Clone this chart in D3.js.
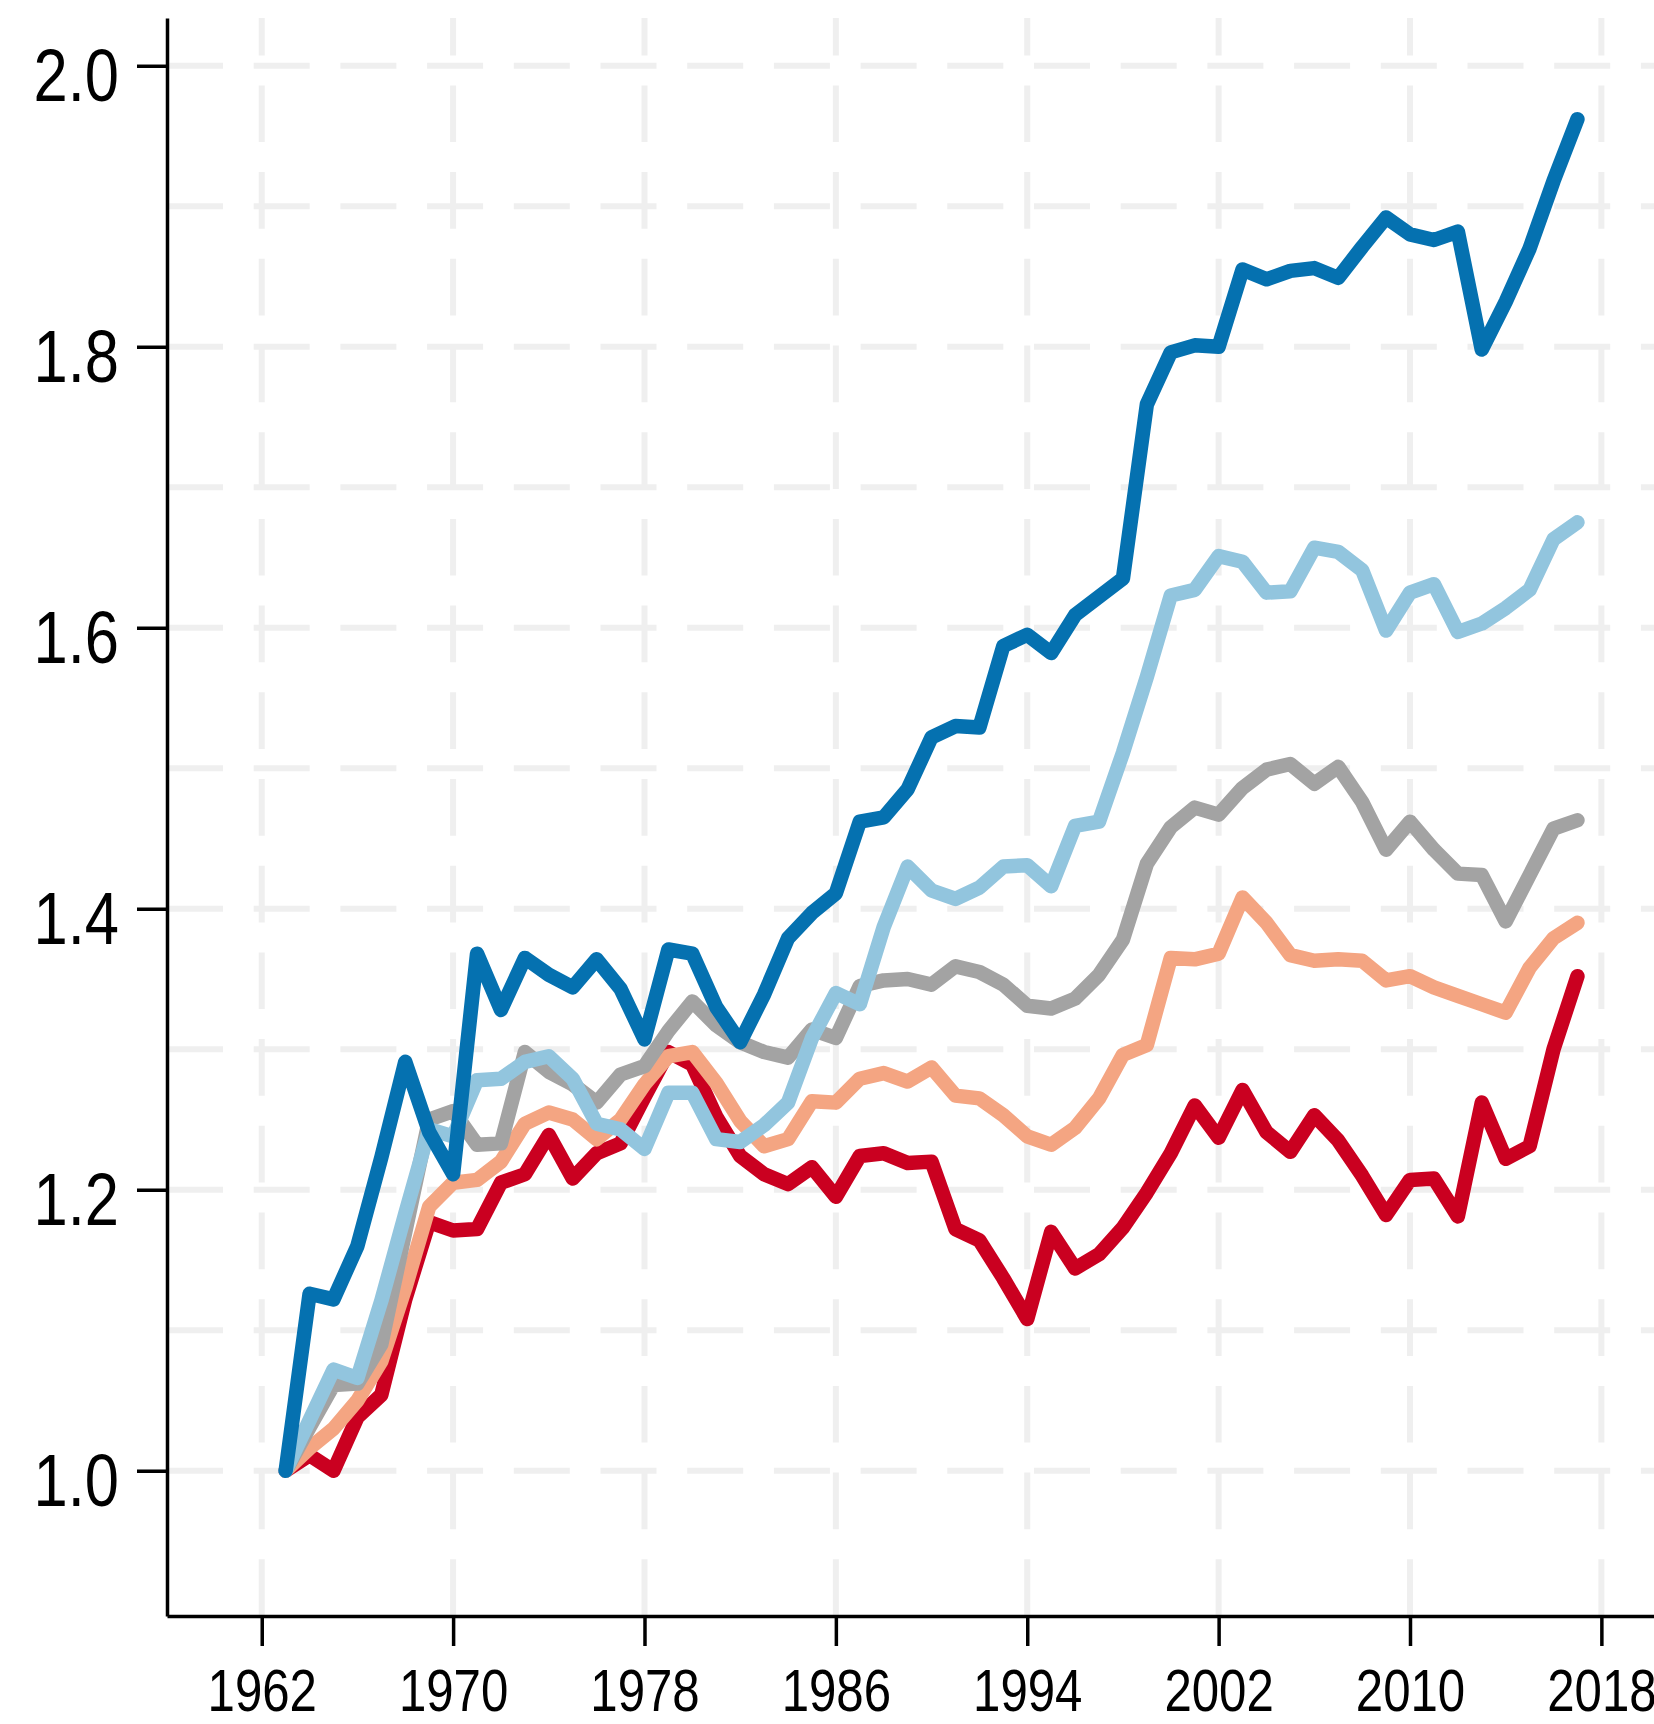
<!DOCTYPE html>
<html>
<head>
<meta charset="utf-8">
<script src="https://cdn.jsdelivr.net/npm/d3@7"></script>
<style>
    html, body { margin: 0; padding: 0; background: #fff; }
    svg { display: block; }
    .tick text { font-family: 'Liberation Sans', Arial, sans-serif; fill: #000; }
</style>
</head>
<body>
<div id="chart"></div>
<script>
var width = 1654;
var height = 1724;

var years = d3.range(1963, 2018);

// series, one value per year 1963..2017
var dark_blue = [1.000, 1.126, 1.122, 1.160, 1.223, 1.291, 1.241, 1.211, 1.368, 1.328,
    1.365, 1.353, 1.344, 1.364, 1.343, 1.307, 1.371, 1.368, 1.330, 1.305,
    1.339, 1.379, 1.397, 1.411, 1.462, 1.465, 1.485, 1.522, 1.530, 1.529,
    1.587, 1.595, 1.582, 1.609, 1.622, 1.635, 1.759, 1.796, 1.801, 1.800,
    1.855, 1.848, 1.854, 1.856, 1.849, 1.871, 1.892, 1.880, 1.876, 1.882,
    1.798, 1.832, 1.870, 1.918, 1.962];
var light_blue = [1.000, 1.036, 1.072, 1.066, 1.121, 1.183, 1.243, 1.238, 1.278, 1.279,
    1.291, 1.295, 1.279, 1.247, 1.243, 1.229, 1.269, 1.269, 1.236, 1.234,
    1.246, 1.262, 1.308, 1.340, 1.332, 1.387, 1.430, 1.413, 1.407, 1.415,
    1.430, 1.431, 1.416, 1.459, 1.462, 1.511, 1.565, 1.623, 1.627, 1.651,
    1.647, 1.625, 1.626, 1.657, 1.654, 1.641, 1.598, 1.625, 1.631, 1.597,
    1.603, 1.614, 1.627, 1.663, 1.675];
var grey = [1.000, 1.031, 1.061, 1.062, 1.090, 1.170, 1.250, 1.256, 1.232, 1.233,
    1.298, 1.284, 1.275, 1.262, 1.282, 1.288, 1.313, 1.334, 1.317, 1.305,
    1.298, 1.294, 1.314, 1.308, 1.345, 1.349, 1.350, 1.346, 1.359, 1.355,
    1.346, 1.331, 1.329, 1.336, 1.353, 1.378, 1.432, 1.458, 1.472, 1.467,
    1.486, 1.499, 1.503, 1.489, 1.501, 1.476, 1.442, 1.462, 1.442, 1.425,
    1.424, 1.391, 1.424, 1.457, 1.463];
var salmon = [1.000, 1.016, 1.030, 1.050, 1.078, 1.130, 1.188, 1.205, 1.207, 1.220,
    1.247, 1.255, 1.250, 1.236, 1.250, 1.275, 1.295, 1.298, 1.276, 1.249,
    1.231, 1.236, 1.263, 1.262, 1.279, 1.283, 1.277, 1.287, 1.267, 1.265,
    1.253, 1.238, 1.232, 1.244, 1.265, 1.296, 1.303, 1.365, 1.364, 1.368,
    1.408, 1.390, 1.367, 1.363, 1.364, 1.363, 1.349, 1.352, 1.344, 1.338,
    1.332, 1.326, 1.358, 1.379, 1.390];
var red = [1.000, 1.011, 1.000, 1.038, 1.054, 1.122, 1.177, 1.171, 1.172, 1.205,
    1.211, 1.239, 1.208, 1.226, 1.233, 1.266, 1.298, 1.289, 1.252, 1.224,
    1.211, 1.204, 1.216, 1.195, 1.224, 1.226, 1.219, 1.220, 1.172, 1.164,
    1.137, 1.108, 1.170, 1.144, 1.154, 1.173, 1.198, 1.226, 1.260, 1.237,
    1.271, 1.241, 1.227, 1.253, 1.235, 1.210, 1.182, 1.207, 1.208, 1.181,
    1.262, 1.222, 1.231, 1.300, 1.352];

var x_ticks = [1962, 1970, 1978, 1986, 1994, 2002, 2010, 2018];
var y_ticks = [1.0, 1.2, 1.4, 1.6, 1.8, 2.0];
var y_grid = [1.0, 1.1, 1.2, 1.3, 1.4, 1.5, 1.6, 1.7, 1.8, 1.9, 2.0];

// drawing order: bottom first
var series = [
    { name: 'red', values: red, color: '#ca0020' },
    { name: 'salmon', values: salmon, color: '#f4a582' },
    { name: 'grey', values: grey, color: '#a3a3a3' },
    { name: 'light_blue', values: light_blue, color: '#92c5de' },
    { name: 'dark_blue', values: dark_blue, color: '#0571b0' }
];

// the plot runs past the right edge, like the original
var x = d3.scaleLinear().domain([1958.04, 2020.2]).range([167, 1654]);
var y = d3.scaleLinear().domain([0.8966, 2.034]).range([1616, 18]);

// no narrow font installed, so squeeze the regular one
var squeeze = 0.82;

var svg = d3.select('#chart')
    .append('svg')
    .attr('width', width)
    .attr('height', height);

// Grid lines, light and dashed.
svg.append('g')
    .selectAll('line')
    .data(y_grid)
    .enter()
    .append('line')
    .attr('x1', x.range()[0])
    .attr('x2', x.range()[1])
    .attr('y1', function(d) { return y(d); })
    .attr('y2', function(d) { return y(d); })
    .attr('stroke', '#efefef')
    .attr('stroke-width', 6)
    .attr('stroke-dasharray', '56 30.7');

svg.append('g')
    .selectAll('line')
    .data(x_ticks)
    .enter()
    .append('line')
    .attr('x1', function(d) { return x(d); })
    .attr('x2', function(d) { return x(d); })
    .attr('y1', y.range()[0])
    .attr('y2', y.range()[1])
    .attr('stroke', '#efefef')
    .attr('stroke-width', 6)
    .attr('stroke-dasharray', '56.7 30');

// The lines.
var line = d3.line()
    .x(function(d, i) { return x(years[i]); })
    .y(function(d) { return y(d); });

svg.append('g')
    .selectAll('path')
    .data(series)
    .enter()
    .append('path')
    .attr('class', function(d) { return 'series ' + d.name; })
    .attr('d', function(d) { return line(d.values); })
    .attr('fill', 'none')
    .attr('stroke', function(d) { return d.color; })
    .attr('stroke-width', 14.5)
    .attr('stroke-linejoin', 'round')
    .attr('stroke-linecap', 'round');

// Axes.
var y_axis = d3.axisLeft(y)
    .tickValues(y_ticks)
    .tickFormat(d3.format('.1f'))
    .tickSize(30)
    .tickSizeOuter(0);

var x_axis = d3.axisBottom(x)
    .tickValues(x_ticks)
    .tickFormat(d3.format('d'))
    .tickSize(30)
    .tickSizeOuter(0);

var gy = svg.append('g')
    .attr('transform', 'translate(' + x.range()[0] + ',0)')
    .call(y_axis);

var gx = svg.append('g')
    .attr('transform', 'translate(0,' + y.range()[0] + ')')
    .call(x_axis);

gy.selectAll('.domain, .tick line').attr('stroke', '#000').attr('stroke-width', 3.5);
gx.selectAll('.domain, .tick line').attr('stroke', '#000').attr('stroke-width', 3.5);

gy.selectAll('.tick text')
    .attr('font-size', 75)
    .attr('x', -48 / squeeze)
    .attr('y', 35)
    .attr('dy', 0)
    .attr('transform', 'scale(' + squeeze + ',1)');

// keep the year labels just inside the bottom edge
gx.selectAll('.tick text')
    .attr('font-size', 60)
    .attr('y', 95)
    .attr('dy', 0)
    .attr('transform', 'scale(' + squeeze + ',1)');
</script>
</body>
</html>
